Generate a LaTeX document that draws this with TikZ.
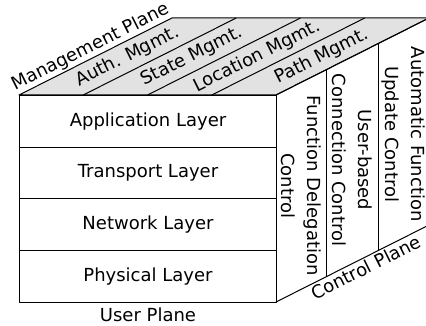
\documentclass[tikz,border=0pt]{standalone}
\usepackage{fontspec}
\setmainfont{DejaVu Sans}
\usetikzlibrary{calc, positioning}
\definecolor{topgray}{RGB}{226,226,226}

\tikzset{
    layer/.style={draw, minimum width=257pt, minimum height=51.75pt, inner sep=0pt, anchor=north west},
    strip/.style={rotate=26.7, inner sep=0pt},
    side/.style={rotate=-90, align=center, inner sep=0pt}
}

\begin{document}
\begin{tikzpicture}[x=1pt, y=1pt, font=\fontsize{18}{26}\selectfont, line width=1pt, line join=round]
    \useasboundingbox (0,0) rectangle (426,326);
    \clip (0,0) rectangle (426,326);

    % corners of the block
    \coordinate (fbl) at (19,24);
    \coordinate (ftl) at (19,231);
    \coordinate (ftr) at (276,231);
    \coordinate (fbr) at (276,24);
    \coordinate (btl) at ($(ftl)+(153,77)$);
    \coordinate (btr) at ($(ftr)+(153,77)$);
    \coordinate (bbr) at ($(fbr)+(153,77)$);

    % top: management plane
    \filldraw[fill=topgray] (ftl) -- (ftr) -- (btr) -- (btl) -- cycle;
    \foreach \t in {0.25, 0.5, 0.75}
        \draw ($(ftl)!\t!(ftr)$) -- ($(btl)!\t!(btr)$);
    \path (ftl) -- (btl) node[midway, sloped, above, inner sep=1pt] (mgmt) {Management Plane};
    \node[strip] (auth) at (127.6,269.5) {Auth. Mgmt.};
    \node[strip] (state) at (191.9,269.5) {State Mgmt.};
    \node[strip] (loc) at (257,269.5) {Location Mgmt.};
    \node[strip] (path) at (322,269.5) {Path Mgmt.};

    % front: user plane
    \foreach \name [count=\i] in {Application Layer, Transport Layer, Network Layer, Physical Layer}
        \node[layer] (layer\i) at (19,{231-(\i-1)*51.75}) {\name};
    \node[below=1pt of layer4] (user) {User Plane};

    % side: control plane
    \draw (ftr) -- (btr) -- (bbr) -- (fbr);
    \foreach \t in {0.3333, 0.6667}
        \draw ($(ftr)!\t!(btr)$) -- ($(fbr)!\t!(bbr)$);
    \node[side] (deleg) at (301.5,140.3) {Function Delegation\\Control};
    \node[side] (conn) at (352.5,166) {User-based\\Connection Control};
    \node[side] (update) at (403.5,191.7) {Automatic Function\\Update Control};
    \path (fbr) -- (bbr) node[pos=0.56, sloped, below, inner sep=2pt] (ctrl) {Control Plane};
\end{tikzpicture}
\end{document}
